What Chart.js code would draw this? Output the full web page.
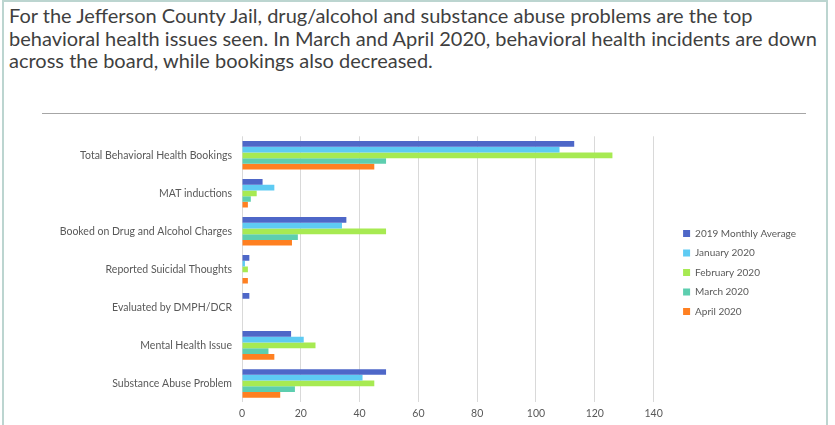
<!DOCTYPE html>
<html>
<head>
<meta charset="utf-8">
<script src="https://cdn.jsdelivr.net/npm/chart.js@4/dist/chart.umd.min.js"></script>
<style>
    html, body { margin: 0; padding: 0; background: #ffffff; }
    body { width: 835px; height: 425px; position: relative; overflow: hidden; }
    #marco {
        position: absolute; left: 2px; top: 0px; width: 826px; height: 440px;
        border: 2px solid #bcd5d0; box-sizing: border-box;
    }
    #titulo {
        position: absolute; left: 9px; top: 4px; width: 1000px;
        font-family: Lato, "Liberation Sans", sans-serif; font-size: 20px; line-height: 22.5px;
        color: #3f3f3f; white-space: nowrap;
    }
    #linea {
        position: absolute; left: 42px; top: 113px; width: 764px; height: 1px; background: #a6a6a6;
    }
    #contenedor { position: absolute; left: 0px; top: 120px; width: 835px; height: 305px; }
</style>
</head>
<body>
<div id="marco"></div>
<div id="titulo">For the Jefferson County Jail, drug/alcohol and substance abuse problems are the top<br>behavioral health issues seen. In March and April 2020, behavioral health incidents are down<br>across the board, while bookings also decreased.</div>
<div id="linea"></div>
<div id="contenedor"><canvas id="grafico"></canvas></div>
<script>
var categorias = [
    "Total Behavioral Health Bookings",
    "MAT inductions",
    "Booked on Drug and Alcohol Charges",
    "Reported Suicidal Thoughts",
    "Evaluated by DMPH/DCR",
    "Mental Health Issue",
    "Substance Abuse Problem"
];
var promedio2019 = [113, 7, 35.5, 2.5, 2.5, 16.7, 49];
var enero2020 = [108, 11, 34, 1, 0, 21, 41];
var febrero2020 = [126, 5, 49, 2, 0, 25, 45];
var marzo2020 = [49, 3, 19, 0, 0, 9, 18];
var abril2020 = [45, 2, 17, 2, 0, 11, 13];
var nombresSeries = ["2019 Monthly Average", "January 2020", "February 2020", "March 2020", "April 2020"];
var colores = ["#4e67c8", "#5ecbf3", "#a7ea52", "#5dceaf", "#ff8021"];
var ticksX = [0, 20, 40, 60, 80, 100, 120, 140];

var valores = [promedio2019, enero2020, febrero2020, marzo2020, abril2020];

function crearDatasets()
{
    var lista = [];
    for (var i = 0; i < valores.length; i++) {
        lista.push({
            label: nombresSeries[i],
            data: valores[i],
            backgroundColor: colores[i],
            borderWidth: 0,
            categoryPercentage: 0.75,
            barPercentage: 1.0
        });
    }
    return lista;
}

// mueve la leyenda sin cambiar el area del grafico
var moverLeyenda = {
    id: 'moverLeyenda',
    afterLayout: function(chart) {
        chart.legend.left += 20;
        chart.legend.right += 20;
        chart.legend.top -= 8;
        chart.legend.bottom -= 8;
    }
};

var fuente = "Lato, 'Liberation Sans', sans-serif";

new Chart(document.getElementById("grafico"), {
    type: 'bar',
    data: {
        labels: categorias,
        datasets: crearDatasets()
    },
    options: {
        indexAxis: 'y',
        responsive: true,
        maintainAspectRatio: false,
        animation: false,
        layout: { padding: { top: 16, right: 49, bottom: 0, left: 0 } },
        scales: {
            x: {
                min: 0,
                max: 140,
                afterBuildTicks: function(scale) {
                    scale.ticks = ticksX.map(function(v) { return { value: v }; });
                },
                grid: { color: "#d9d9d9", drawTicks: false },
                border: { display: false },
                ticks: { color: "#595959", font: { family: fuente, size: 10.5 }, padding: 5 }
            },
            y: {
                grid: { display: false, drawTicks: false },
                border: { display: false },
                ticks: { color: "#595959", font: { family: fuente, size: 10.5 }, padding: 10 },
                afterFit: function(scale) { scale.width = 242; }
            }
        },
        plugins: {
            legend: {
                position: 'right',
                labels: {
                    boxWidth: 7,
                    boxHeight: 7,
                    padding: 9.5,
                    color: "#595959",
                    font: { family: fuente, size: 10 }
                }
            },
            tooltip: { enabled: false }
        }
    },
    plugins: [moverLeyenda]
});
</script>
</body>
</html>
